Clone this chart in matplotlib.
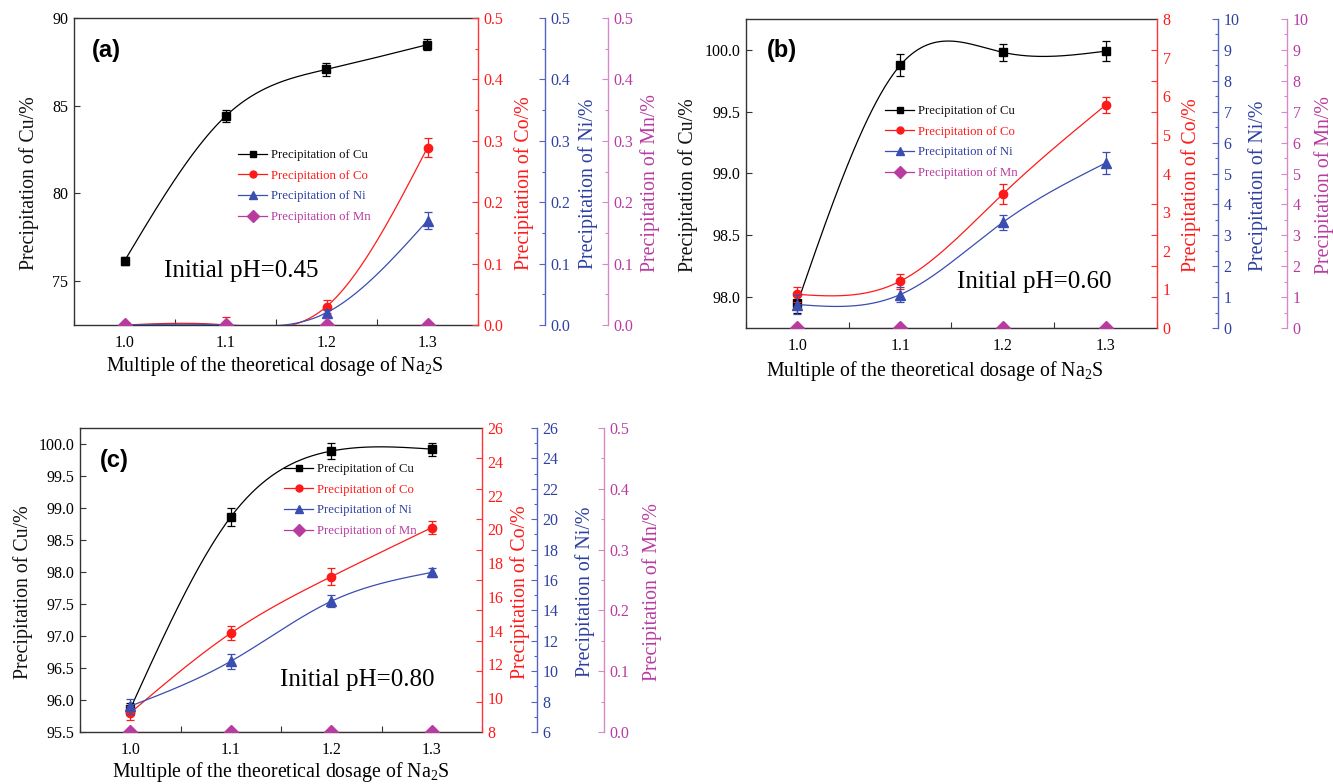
import numpy as np
import matplotlib.pyplot as plt
from matplotlib.lines import Line2D
from matplotlib.ticker import MultipleLocator, FixedLocator

plt.rcParams['font.family'] = ['Liberation Serif', 'DejaVu Serif']
plt.rcParams['mathtext.default'] = 'regular'

W, H = 1333, 784

dosage = [1.0, 1.1, 1.2, 1.3]

# (a) initial pH 0.45
cu_a = [76.15, 84.4, 87.07, 88.48]
cu_a_err = [0.25, 0.35, 0.35, 0.3]
co_a = [0.0, 0.0, 0.03, 0.289]
co_a_err = [0.0, 0.013, 0.01, 0.016]
ni_a = [0.0, 0.0, 0.02, 0.17]
ni_a_err = [0.0, 0.0, 0.005, 0.014]
mn_a = [0.0, 0.0, 0.0, 0.0]

# (b) initial pH 0.60
cu_b = [97.95, 99.875, 99.98, 99.99]
cu_b_err = [0.08, 0.09, 0.07, 0.08]
co_b = [0.87, 1.21, 3.47, 5.77]
co_b_err = [0.2, 0.2, 0.25, 0.2]
ni_b = [0.76, 1.08, 3.42, 5.34]
ni_b_err = [0.3, 0.25, 0.25, 0.35]
mn_b = [0.0, 0.0, 0.0, 0.0]

# (c) initial pH 0.80
cu_c = [95.86, 98.86, 99.89, 99.92]
cu_c_err = [0.1, 0.14, 0.12, 0.1]
co_c = [9.13, 13.85, 17.2, 20.1]
co_c_err = [0.4, 0.4, 0.5, 0.4]
ni_c = [7.7, 10.65, 14.6, 16.5]
ni_c_err = [0.5, 0.5, 0.4, 0.3]
mn_c = [0.0, 0.0, 0.0, 0.0]

RED, RED_SP = '#FF1A1A', '#FF3535'
BLUE, BLUE_SP = '#2E40A0', '#5365C2'
MAG, MAG_SP = '#B83CA0', '#D48AC9'
BLACK = '#111111'
TICK_FS = 11.5


def spline(x, y, n=300):
    # natural cubic spline through the measured points (Origin-style line)
    x = np.asarray(x, float)
    y = np.asarray(y, float)
    k = len(x)
    h = np.diff(x)
    A = np.zeros((k, k))
    r = np.zeros(k)
    A[0, 0] = A[-1, -1] = 1
    for i in range(1, k - 1):
        A[i, i - 1] = h[i - 1]
        A[i, i] = 2 * (h[i - 1] + h[i])
        A[i, i + 1] = h[i]
        r[i] = 6 * ((y[i + 1] - y[i]) / h[i] - (y[i] - y[i - 1]) / h[i - 1])
    M = np.linalg.solve(A, r)
    xs = np.linspace(x[0], x[-1], n)
    j = np.clip(np.searchsorted(x, xs) - 1, 0, k - 2)
    x0, x1 = x[j], x[j + 1]
    hh = x1 - x0
    ys = ((M[j] * (x1 - xs) ** 3 + M[j + 1] * (xs - x0) ** 3) / (6 * hh)
          + (y[j] / hh - M[j] * hh / 6) * (x1 - xs)
          + (y[j + 1] / hh - M[j + 1] * hh / 6) * (xs - x0))
    return xs, ys


def series(axis, y, err, color, marker, ms):
    xs, ys = spline(dosage, y)
    axis.plot(xs, ys, color=color, lw=0.9, zorder=2)
    axis.errorbar(dosage, y, yerr=err, fmt=marker, color=color, ms=ms,
                  elinewidth=0.9, capsize=3, capthick=0.9, zorder=3)


def panel(fig, geo, cu, cu_err, co, co_err, ni, ni_err, mn,
          cu_lim, cu_step, co_lim, co_step, ni_lim, ni_step, ni_minor,
          mn_lim, mn_step, follow_blue, letter, letter_xy, ph, ph_xy,
          leg_xy, ylabel_x, xlabel_xy):
    left, right, top, bottom, blue_x, mag_x = geo
    wpx = right - left
    ax = fig.add_axes([left / W, 1 - bottom / H, wpx / W, (bottom - top) / H])
    ax_co = ax.twinx()
    ax_ni = ax.twinx()
    ax_mn = ax.twinx()
    ax_ni.spines['right'].set_position(('axes', (blue_x - left) / wpx))
    ax_mn.spines['right'].set_position(('axes', (mag_x - left) / wpx))

    ax.spines['right'].set_visible(False)
    for s in ['top', 'bottom', 'left']:
        ax.spines[s].set_color('#333333')
        ax.spines[s].set_linewidth(1.0)
    for a, sp in [(ax_co, RED_SP), (ax_ni, BLUE_SP), (ax_mn, MAG_SP)]:
        for s in ['top', 'bottom', 'left']:
            a.spines[s].set_visible(False)
        a.spines['right'].set_color(sp)
        a.spines['right'].set_linewidth(1.0)

    ax.set_xlim(0.95, 1.35)
    ax.set_xticks(dosage)
    ax.set_xticklabels(['1.0', '1.1', '1.2', '1.3'])
    ax.xaxis.set_minor_locator(MultipleLocator(0.05))
    ax.tick_params(axis='x', which='both', direction='in', length=4,
                   width=0.8, labelsize=TICK_FS, pad=7, color='#333333')
    ax.set_ylim(*cu_lim)
    ax.yaxis.set_major_locator(MultipleLocator(cu_step))
    ax.yaxis.set_major_formatter(
        plt.FormatStrFormatter('%.1f' if cu_step < 1 else '%d'))
    ax.tick_params(axis='y', which='both', direction='in', length=4,
                   width=0.8, labelsize=TICK_FS, pad=4, color='#333333')

    ax_co.set_ylim(*co_lim)
    ax_co.yaxis.set_major_locator(MultipleLocator(co_step))
    if follow_blue:
        # Co tick marks sit at the Ni major tick heights, labels at Co values
        nv = np.arange(ni_lim[0], ni_lim[1] + 1e-9, ni_step)
        mapped = co_lim[0] + (nv - ni_lim[0]) / (ni_lim[1] - ni_lim[0]) * (co_lim[1] - co_lim[0])
        ax_co.yaxis.set_minor_locator(FixedLocator(mapped))
        ax_co.tick_params(axis='y', which='major', length=0)
        ax_co.tick_params(axis='y', which='minor', length=4)
    else:
        ax_co.yaxis.set_minor_locator(MultipleLocator(co_step / 2))
        ax_co.tick_params(axis='y', which='major', length=4)
        ax_co.tick_params(axis='y', which='minor', length=2.5)
    ax_co.tick_params(axis='y', which='both', direction='in', width=0.8,
                      labelsize=TICK_FS, pad=4, color=RED_SP, labelcolor=RED)

    ax_ni.set_ylim(*ni_lim)
    ax_ni.yaxis.set_major_locator(MultipleLocator(ni_step))
    ax_ni.yaxis.set_minor_locator(MultipleLocator(ni_minor))
    ax_ni.tick_params(axis='y', which='major', length=4)
    ax_ni.tick_params(axis='y', which='minor', length=2.5)
    ax_ni.tick_params(axis='y', which='both', direction='in', width=0.8,
                      labelsize=TICK_FS, pad=4, color=BLUE_SP, labelcolor=BLUE)

    ax_mn.set_ylim(*mn_lim)
    ax_mn.yaxis.set_major_locator(MultipleLocator(mn_step))
    ax_mn.yaxis.set_minor_locator(MultipleLocator(mn_step / 2))
    ax_mn.tick_params(axis='y', which='major', length=4)
    ax_mn.tick_params(axis='y', which='minor', length=2.5)
    ax_mn.tick_params(axis='y', which='both', direction='in', width=0.8,
                      labelsize=TICK_FS, pad=4, color=MAG_SP, labelcolor=MAG)
    for a, fmt in [(ax_co, co_step), (ax_ni, ni_step), (ax_mn, mn_step)]:
        a.yaxis.set_major_formatter(
            plt.FormatStrFormatter('%.1f' if fmt < 1 else '%d'))

    series(ax, cu, cu_err, 'black', 's', 6)
    series(ax_co, co, co_err, RED, 'o', 6)
    series(ax_ni, ni, ni_err, '#3A4DB0', '^', 6.5)
    xs, ys = spline(dosage, mn)
    ax_mn.plot(xs, ys, color='#C050A8', lw=0.9)
    ax_mn.plot(dosage, mn, 'D', color=MAG, ms=7)

    handles = [
        Line2D([], [], color='black', marker='s', ms=5, lw=0.9),
        Line2D([], [], color=RED, marker='o', ms=5, lw=0.9),
        Line2D([], [], color='#3A4DB0', marker='^', ms=5.5, lw=0.9),
        Line2D([], [], color=MAG, marker='D', ms=6, lw=0.9),
    ]
    labels = ['Precipitation of Cu', 'Precipitation of Co',
              'Precipitation of Ni', 'Precipitation of Mn']
    leg = ax_mn.legend(handles, labels, loc='upper left',
                       bbox_to_anchor=(leg_xy[0] / W, 1 - (leg_xy[1] - 7) / H),
                       bbox_transform=fig.transFigure, frameon=False,
                       fontsize=9.2, borderpad=0, borderaxespad=0,
                       handlelength=2.3, handletextpad=0.25, labelspacing=0.68)
    for t, c in zip(leg.get_texts(), [BLACK, RED, BLUE, MAG]):
        t.set_color(c)

    fig.text(letter_xy[0] / W, 1 - letter_xy[1] / H, letter,
             family=['Liberation Sans', 'DejaVu Sans'], fontweight='bold',
             fontsize=17, ha='left', va='center')
    fig.text(ph_xy[0] / W, 1 - ph_xy[1] / H, ph, fontsize=18,
             ha='left', va='center')

    ymid = 1 - ((top + bottom) / 2 + 12) / H
    for x, txt, c in zip(ylabel_x,
                         ['Precipitation of Cu/%', 'Precipitation of Co/%',
                          'Precipitation of Ni/%', 'Precipitation of Mn/%'],
                         [BLACK, RED, BLUE, MAG]):
        fig.text(x / W, ymid, txt, rotation=90, ha='center', va='center',
                 fontsize=14.3, color=c)
    fig.text(xlabel_xy[0] / W, 1 - xlabel_xy[1] / H,
             'Multiple of the theoretical dosage of Na$_2$S',
             ha='center', va='center', fontsize=14.3)
    return ax


fig = plt.figure(figsize=(W / 100, H / 100), dpi=100)

panel(fig, (74, 478, 18, 325, 545, 608),
      cu_a, cu_a_err, co_a, co_a_err, ni_a, ni_a_err, mn_a,
      (72.5, 90), 5, (0, 0.5), 0.1, (0, 0.5), 0.1, 0.05, (0, 0.5), 0.1,
      False, '(a)', (92, 50), 'Initial pH=0.45', (164, 271),
      (238, 156), (29, 524, 588, 650), (275, 366))

panel(fig, (746, 1157, 19, 328, 1218, 1287),
      cu_b, cu_b_err, co_b, co_b_err, ni_b, ni_b_err, mn_b,
      (97.75, 100.25), 0.5, (0, 8), 1, (0, 10), 1, 0.5, (0, 10), 1,
      True, '(b)', (767, 50), 'Initial pH=0.60', (957, 282),
      (885, 112), (688, 1191, 1258, 1324), (935, 371))

panel(fig, (80, 482, 428, 732, 537, 604),
      cu_c, cu_c_err, co_c, co_c_err, ni_c, ni_c_err, mn_c,
      (95.5, 100.25), 0.5, (8, 26), 2, (6, 26), 2, 1, (0, 0.5), 0.1,
      True, '(c)', (100, 460), 'Initial pH=0.80', (280, 680),
      (284, 470), (23, 520, 585, 652), (281, 772))

fig.savefig('out.png', dpi=100)
